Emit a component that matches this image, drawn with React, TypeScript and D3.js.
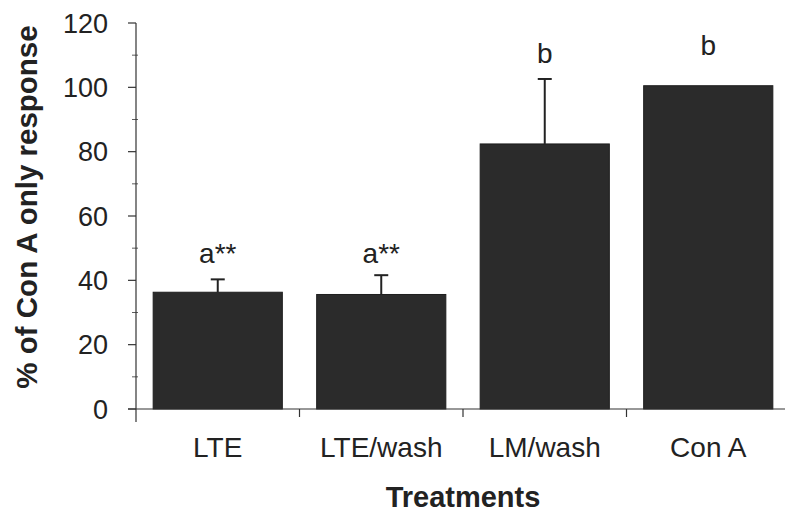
import React from "react";
import * as d3 from "d3";

// Treatment groups and their responses (% of Con A only)
const categories = ["LTE", "LTE/wash", "LM/wash", "Con A"];
const means = [36.3, 35.6, 82.4, 100.5];
const errors = [4.0, 6.0, 20.2, 0];
const groupLabels = ["a**", "a**", "b", "b"];
// height (in % units) at which each significance letter sits
const labelLevels = [45.5, 45.5, 107.5, 110];
const yTicks = [0, 20, 40, 60, 80, 100, 120];
const yMinorTicks = [10, 30, 50, 70, 90, 110];

const W = 785;
const H = 513;
const FONT = "Liberation Sans, Arial, sans-serif";

export default function App() {
  const y = d3.scaleLinear().domain([0, 120]).range([409, 23]);
  const x = d3
    .scaleBand<string>()
    .domain(categories)
    .range([136, 790])
    .paddingInner(0.21)
    .paddingOuter(0.105);
  const step = x.step();
  const catTicks = categories.slice(1).map((c) => (x(c) as number) - step * 0.105);

  return (
    <svg
      width={W}
      height={H}
      viewBox={`0 0 ${W} ${H}`}
      style={{ position: "absolute", left: 0, top: 0, background: "#fff" }}
    >
      {/* bars */}
      {categories.map((c, i) => (
        <rect
          key={c}
          x={x(c)}
          y={y(means[i])}
          width={x.bandwidth()}
          height={y(0) - y(means[i])}
          fill="#2b2b2b"
          stroke="#1e1e1e"
          strokeWidth={1}
        />
      ))}
      {/* error bars (upper only) */}
      {categories.map((c, i) => {
        if (!errors[i]) return null;
        const cx = (x(c) as number) + x.bandwidth() / 2;
        const top = y(means[i] + errors[i]);
        return (
          <g key={c} stroke="#222" strokeWidth={2}>
            <line x1={cx} x2={cx} y1={y(means[i])} y2={top} />
            <line x1={cx - 7} x2={cx + 7} y1={top} y2={top} />
          </g>
        );
      })}
      {/* significance letters */}
      {categories.map((c, i) => (
        <text
          key={c}
          x={(x(c) as number) + x.bandwidth() / 2}
          y={y(labelLevels[i])}
          textAnchor="middle"
          fontFamily={FONT}
          fontSize={28}
          fill="#222"
        >
          {groupLabels[i]}
        </text>
      ))}
      {/* axes */}
      <g stroke="#333" strokeWidth={1.2}>
        <line x1={136} x2={136} y1={y(120)} y2={422} />
        {yTicks.map((t) => (
          <line key={t} x1={128} x2={136} y1={y(t)} y2={y(t)} />
        ))}
        {yMinorTicks.map((t) => (
          <line key={t} x1={132} x2={138} y1={y(t)} y2={y(t)} strokeWidth={0.8} />
        ))}
        <line x1={128} x2={W} y1={y(0)} y2={y(0)} />
        {catTicks.map((t) => (
          <line key={t} x1={t} x2={t} y1={y(0)} y2={y(0) + 8} />
        ))}
      </g>
      {yTicks.map((t) => (
        <text
          key={t}
          x={108}
          y={y(t)}
          dy="0.36em"
          textAnchor="end"
          fontFamily={FONT}
          fontSize={27}
          fill="#222"
        >
          {t}
        </text>
      ))}
      {categories.map((c) => (
        <text
          key={c}
          x={(x(c) as number) + x.bandwidth() / 2}
          y={457}
          textAnchor="middle"
          fontFamily={FONT}
          fontSize={28}
          fill="#222"
        >
          {c}
        </text>
      ))}
      <text
        x={463}
        y={507}
        textAnchor="middle"
        fontFamily={FONT}
        fontSize={29}
        fontWeight="bold"
        fill="#222"
      >
        Treatments
      </text>
      <text
        transform={`translate(37, 207) rotate(-90)`}
        textAnchor="middle"
        fontFamily={FONT}
        fontSize={29.5}
        fontWeight="bold"
        fill="#222"
      >
        % of Con A only response
      </text>
    </svg>
  );
}
